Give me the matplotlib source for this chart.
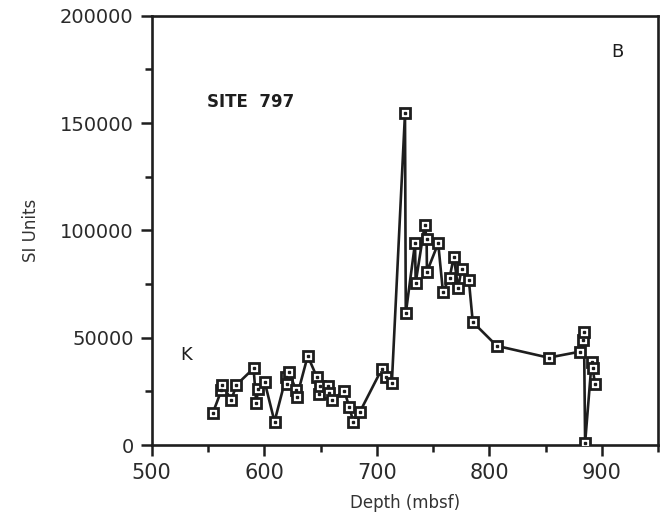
import matplotlib
matplotlib.use("Agg")
import matplotlib.pyplot as plt
from matplotlib.ticker import MultipleLocator

# depth (mbsf) and susceptibility (SI units)
depth = [554.2, 562.0, 562.7, 570.8, 575.2, 590.5, 592.9, 594.4, 600.3,
         609.1, 619.4, 620.3, 621.8, 628.3, 628.8, 638.6, 646.6, 648.3,
         649.5, 656.9, 657.8, 660.2, 671.0, 675.5, 679.0, 685.0,
         704.4, 708.5, 713.3, 725.0, 725.7, 733.9, 734.5, 742.5, 744.2,
         744.5, 754.5, 758.7, 764.6, 768.4, 772.2, 775.2, 781.7, 785.2,
         806.5, 852.5, 880.5, 883.5, 884.0, 885.0, 890.8, 891.7, 893.8]
si_units = [14800, 25600, 28000, 21000, 28000, 35700, 19400, 26000, 29500,
            10900, 31800, 28300, 34000, 25600, 22200, 41500, 31800, 24000,
            27500, 27500, 24400, 21000, 25300, 17800, 10900, 15500,
            35400, 31500, 28700, 154500, 61300, 94000, 75600, 102500, 96000,
            80700, 94000, 71400, 78000, 87700, 73000, 82000, 76900, 57300,
            46200, 40700, 43500, 49000, 52800, 1000, 38800, 36000, 28300]

fig = plt.figure(figsize=(6.63, 5.23), dpi=100)
ax = fig.add_axes([0.2288, 0.1491, 0.7641, 0.8209])

ink = "#1e1e1e"
ax.plot(depth, si_units, color=ink, lw=1.9, marker="s", markersize=7.5,
        markerfacecolor="white", markeredgecolor=ink, markeredgewidth=2.0, zorder=3)
# little dot in the middle of each box
ax.plot(depth, si_units, ls="none", marker="s", markersize=1.8,
        markerfacecolor=ink, markeredgecolor=ink, zorder=4)

ax.set_xlim(500, 950)
ax.set_ylim(0, 200000)
ax.xaxis.set_major_locator(MultipleLocator(100))
ax.xaxis.set_minor_locator(MultipleLocator(50))
ax.yaxis.set_major_locator(MultipleLocator(50000))
ax.yaxis.set_minor_locator(MultipleLocator(25000))
ax.tick_params(which="major", direction="out", length=8, width=1.8, colors=ink,
               labelsize=14, pad=5)
ax.tick_params(which="minor", direction="out", length=5, width=1.8, colors=ink)
ax.tick_params(axis="both", which="major", labelcolor="#2a2a2a")
ax.tick_params(axis="x", labelsize=15)
ax.set_xticks([500, 600, 700, 800, 900])

for s in ax.spines.values():
    s.set_linewidth(1.9)
    s.set_color(ink)

ax.set_xlabel("Depth (mbsf)", fontsize=12, color="#333333", labelpad=8)
ax.set_ylabel("SI Units", fontsize=12, color="#333333", labelpad=14)

ax.text(588, 160000, "SITE  797", fontsize=12, fontweight="bold", color=ink,
        ha="center", va="center")
ax.text(531, 42000, "K", fontsize=13, color=ink, ha="center", va="center")
ax.text(914, 183000, "B", fontsize=13, color=ink, ha="center", va="center")

fig.savefig("out.png", dpi=100)
